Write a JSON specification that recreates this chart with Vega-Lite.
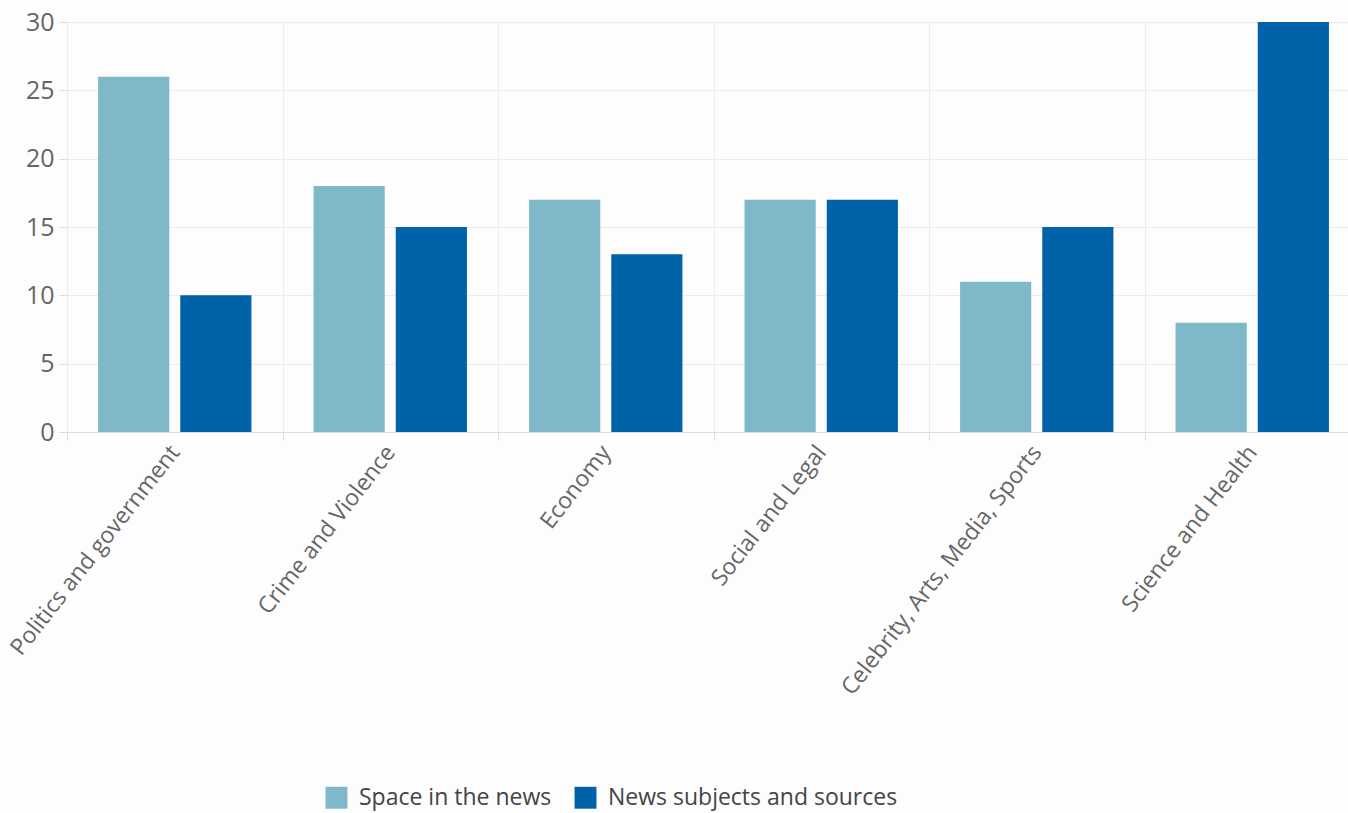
{
  "$schema": "https://vega.github.io/schema/vega-lite/v6.json",
  "autosize": "none",
  "padding": {"left": 67, "top": 22, "right": 0, "bottom": 381},
  "width": 1293,
  "height": 410,
  "background": "#fdfdfd",
  "config": {"view": {"stroke": null}, "font": "Open Sans"},
  "data": {"values": [
    {"topic": "Politics and government", "series": "Space in the news", "value": 26},
    {"topic": "Politics and government", "series": "News subjects and sources", "value": 10},
    {"topic": "Crime and Violence", "series": "Space in the news", "value": 18},
    {"topic": "Crime and Violence", "series": "News subjects and sources", "value": 15},
    {"topic": "Economy", "series": "Space in the news", "value": 17},
    {"topic": "Economy", "series": "News subjects and sources", "value": 13},
    {"topic": "Social and Legal", "series": "Space in the news", "value": 17},
    {"topic": "Social and Legal", "series": "News subjects and sources", "value": 17},
    {"topic": "Celebrity, Arts, Media, Sports", "series": "Space in the news", "value": 11},
    {"topic": "Celebrity, Arts, Media, Sports", "series": "News subjects and sources", "value": 15},
    {"topic": "Science and Health", "series": "Space in the news", "value": 8},
    {"topic": "Science and Health", "series": "News subjects and sources", "value": 30}
  ]},
  "mark": {"type": "bar"},
  "encoding": {
    "x": {
      "field": "topic", "type": "nominal", "sort": null,
      "scale": {"paddingInner": 0, "paddingOuter": 0},
      "axis": {
        "title": null, "labelAngle": -52, "labelFontSize": 23, "labelColor": "#666",
        "labelAlign": "right", "labelBaseline": "middle", "labelPadding": 8,
        "tickBand": "extent", "grid": true, "gridColor": "#ececec",
        "domainColor": "#dddddd", "tickColor": "#dddddd", "tickSize": 8, "labelLimit": 500
      }
    },
    "xOffset": {
      "field": "series", "type": "nominal",
      "scale": {"domain": ["Space in the news", "News subjects and sources"], "paddingInner": 0.134, "paddingOuter": 0.378}
    },
    "y": {
      "field": "value", "type": "quantitative",
      "scale": {"domain": [0, 30]},
      "axis": {
        "title": null, "values": [0, 5, 10, 15, 20, 25, 30], "labelFontSize": 25, "labelColor": "#666",
        "domain": false, "tickColor": "#dddddd", "tickSize": 8, "labelPadding": 5,
        "gridColor": "#ececec"
      }
    },
    "color": {
      "field": "series", "type": "nominal",
      "scale": {"domain": ["Space in the news", "News subjects and sources"], "range": ["#7fb8c8", "#0062a8"]},
      "legend": {
        "title": null, "orient": "none", "direction": "horizontal",
        "legendX": 258, "legendY": 764,
        "symbolType": "square", "symbolSize": 480, "symbolStrokeWidth": 0,
        "labelFontSize": 23, "labelColor": "#444", "columnPadding": 22, "labelOffset": 11, "labelLimit": 600
      }
    }
  }
}
